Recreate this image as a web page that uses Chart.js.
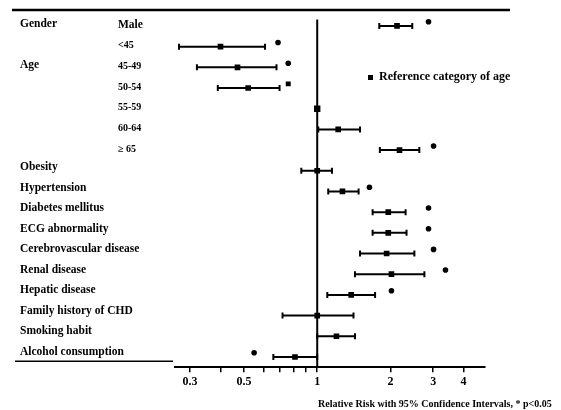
<!DOCTYPE html>
<html>
<head>
<meta charset="utf-8">
<script src="https://cdn.jsdelivr.net/npm/chart.js@4.4.1/dist/chart.umd.min.js"></script>
<style>
  html, body { margin: 0; padding: 0; background: #fff; }
  #wrap { width: 561px; height: 410px; }
</style>
</head>
<body>
<div id="wrap"><canvas id="forest"></canvas></div>
<script>
// one entry per row, top to bottom
const groupLabels = ['Gender', '', 'Age', '', '', '', '', 'Obesity', 'Hypertension', 'Diabetes mellitus',
  'ECG abnormality', 'Cerebrovascular disease', 'Renal disease', 'Hepatic disease',
  'Family history of CHD', 'Smoking habit', 'Alcohol consumption'];
const subLabels = ['Male', '<45', '45-49', '50-54', '55-59', '60-64', '\u2265 65',
  '', '', '', '', '', '', '', '', '', ''];
const relRisk = [2.13, 0.40, 0.47, 0.52, 1.0, 1.22, 2.18, 1.0, 1.27, 1.96, 1.96, 1.93, 2.02, 1.38, 1.0, 1.20, 0.81];
const ciLow = [1.80, 0.27, 0.32, 0.39, null, 1.01, 1.81, 0.86, 1.11, 1.69, 1.69, 1.50, 1.43, 1.10, 0.72, 1.0, 0.66];
const ciHigh = [2.46, 0.61, 0.68, 0.70, null, 1.50, 2.63, 1.15, 1.48, 2.31, 2.33, 2.51, 2.76, 1.73, 1.41, 1.43, 1.0];
// "*" p<0.05 markers
const sigMarks = [2.87, 0.69, 0.76, 0.76, null, null, 3.01, null, 1.64, 2.87, 2.87, 3.01, 3.37, 2.02, null, null, 0.55];
const refRow = 4;
const xTicks = [0.3, 0.4, 0.5, 0.6, 0.7, 0.8, 0.9, 1, 2, 3, 4];
const xTickLabels = ['0.3', '', '0.5', '', '', '', '', '1', '2', '3', '4'];

const SERIF = '"Liberation Serif", "DejaVu Serif", serif';

// interval segments, broken by empty points between rows
const ciPoints = [];
relRisk.forEach((v, i) => {
  if (ciLow[i] == null) return;
  ciPoints.push({ x: ciLow[i], y: i }, { x: ciHigh[i], y: i }, { x: null, y: null });
});
const estPoints = relRisk.map((v, i) => ({ x: v, y: i }));
const sigPoints = [];
sigMarks.forEach((v, i) => { if (v != null) sigPoints.push({ x: v, y: i - 0.2, row: i }); });

const tableDecor = {
  id: 'tableDecor',
  beforeDatasetsDraw(chart) {
    const { ctx, chartArea, scales: { x } } = chart;
    ctx.save();
    ctx.strokeStyle = '#000';
    ctx.lineWidth = 2.5;
    ctx.beginPath(); ctx.moveTo(12, 10); ctx.lineTo(510, 10); ctx.stroke();
    ctx.lineWidth = 1.5;
    ctx.beginPath(); ctx.moveTo(15, chartArea.bottom - 6); ctx.lineTo(173, chartArea.bottom - 6); ctx.stroke();
    const x1 = x.getPixelForValue(1);
    ctx.lineWidth = 2;
    ctx.beginPath(); ctx.moveTo(x1, chartArea.top + 4); ctx.lineTo(x1, chartArea.bottom); ctx.stroke();
    ctx.restore();
  },
  afterDraw(chart) {
    const { ctx, scales: { y } } = chart;
    ctx.save();
    ctx.fillStyle = '#000';
    ctx.textBaseline = 'middle';
    ctx.textAlign = 'left';
    groupLabels.forEach((t, i) => {
      if (!t) return;
      ctx.font = 'bold 11.5px ' + SERIF;
      ctx.fillText(t, 20, y.getPixelForValue(i) - 2 - i * 0.2);
    });
    subLabels.forEach((t, i) => {
      if (!t) return;
      ctx.font = (i === 0 ? 'bold 11.5px ' : 'bold 10px ') + SERIF;
      ctx.fillText(t, 118, y.getPixelForValue(i) - 1);
    });
    // legend for the reference square
    ctx.fillRect(368, 75, 5, 5);
    ctx.font = 'bold 12px ' + SERIF;
    ctx.fillText('Reference category of age', 379, 77);
    // axis caption
    ctx.font = 'bold 10px ' + SERIF;
    ctx.fillText('Relative Risk with 95% Confidence Intervals, * p<0.05', 318, 404);
    ctx.restore();
  }
};

new Chart(document.getElementById('forest'), {
  type: 'scatter',
  data: {
    datasets: [
      {
        type: 'line',
        data: ciPoints,
        borderColor: '#000',
        borderWidth: 2,
        spanGaps: false,
        pointStyle: 'line',
        rotation: 90,
        pointRadius: 3,
        pointBorderWidth: 2,
        pointBorderColor: '#000',
        pointBackgroundColor: '#000'
      },
      {
        data: estPoints,
        pointStyle: 'rect',
        pointRadius: ctx => ctx.dataIndex === refRow ? 4.5 : 4,
        backgroundColor: '#000',
        borderColor: '#000',
        borderWidth: 0
      },
      {
        data: sigPoints,
        pointStyle: ctx => ctx.raw && ctx.raw.row === 3 ? 'rect' : 'circle',
        pointRadius: ctx => ctx.raw && ctx.raw.row === 3 ? 3.5 : 2.8,
        backgroundColor: '#000',
        borderColor: '#000',
        borderWidth: 0
      }
    ]
  },
  options: {
    responsive: true,
    maintainAspectRatio: false,
    animation: false,
    layout: { padding: { left: 175, right: 76, top: 15.6, bottom: 18.7 } },
    plugins: { legend: { display: false }, tooltip: { enabled: false } },
    scales: {
      x: {
        type: 'logarithmic',
        min: 0.26,
        max: 4.9,
        afterBuildTicks: scale => { scale.ticks = xTicks.map(v => ({ value: v })); },
        afterFit: scale => { scale.height = 24; },
        grid: { display: true, drawOnChartArea: false, drawTicks: true, tickLength: 5, color: '#000', lineWidth: 1.5 },
        border: { display: true, color: '#000', width: 2 },
        ticks: {
          autoSkip: false,
          maxRotation: 0,
          padding: 2,
          color: '#000',
          font: { family: SERIF, size: 12, weight: 'bold' },
          callback: (v, i) => xTickLabels[i]
        }
      },
      y: {
        type: 'linear',
        reverse: true,
        min: -0.5,
        max: 16.5,
        display: false
      }
    }
  },
  plugins: [tableDecor]
});
</script>
</body>
</html>
